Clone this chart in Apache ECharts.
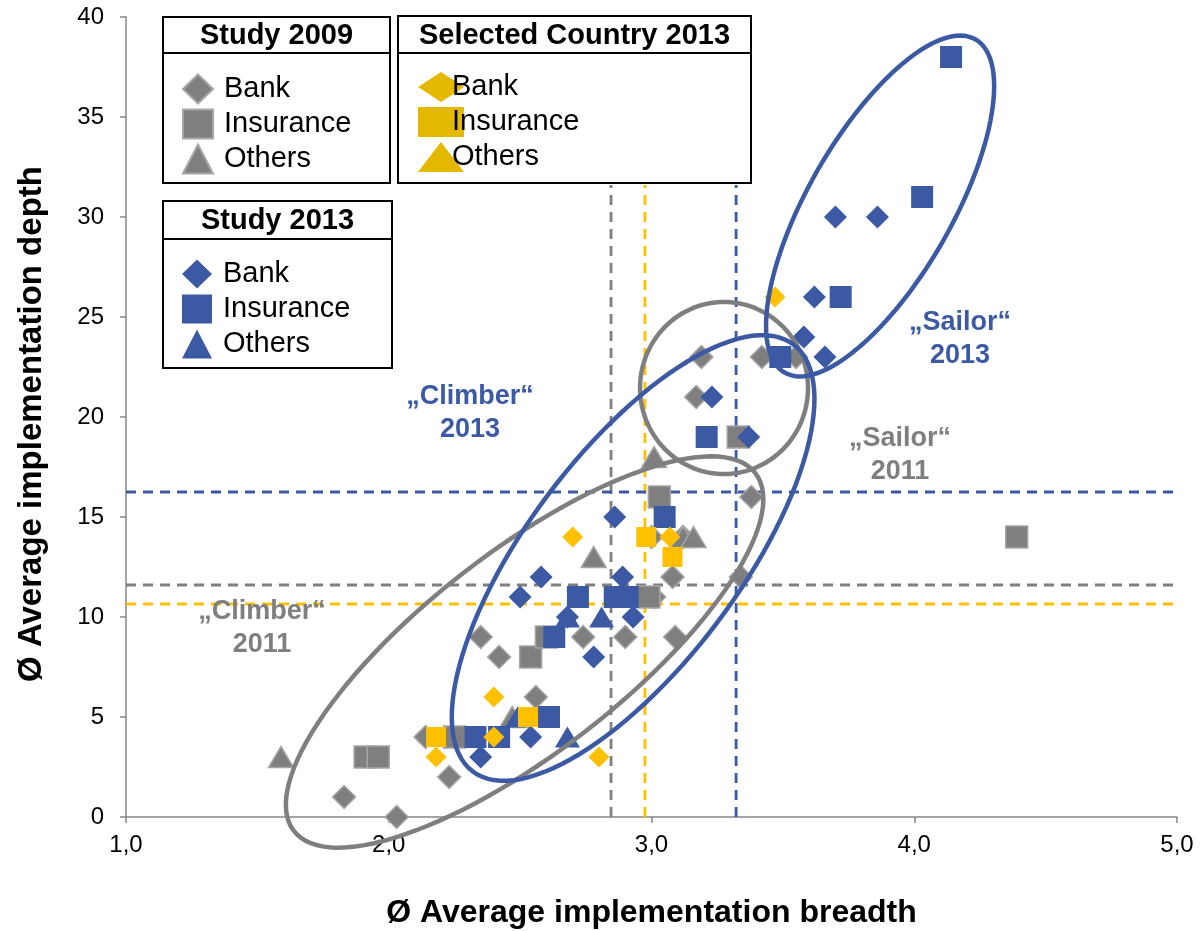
<!DOCTYPE html>
<html lang="en">
<head>
<meta charset="UTF-8">
<title>Implementation breadth vs depth</title>
<script src="https://cdn.jsdelivr.net/npm/echarts@6/dist/echarts.min.js"></script>
<style>
    html, body { margin: 0; padding: 0; background: #fff; }
    #main { width: 1202px; height: 931px; }
</style>
</head>
<body>
<div id="main"></div>
<script>
    // [breadth, depth]
    var bank2009 = [[1.83, 1], [2.03, 0], [2.23, 2], [2.14, 4], [2.56, 6], [2.42, 8], [2.35, 9], [2.74, 9], [2.90, 9],
        [3.09, 9], [3.08, 12], [3.01, 11], [3.34, 12], [3.38, 16], [3.00, 14], [3.12, 14], [3.19, 23], [3.17, 21],
        [3.42, 23], [3.55, 23]];
    var insurance2009 = [[1.91, 3], [1.96, 3], [2.25, 4], [2.54, 8], [2.60, 9], [2.99, 11], [3.03, 16], [3.33, 19], [4.39, 14]];
    var others2009 = [[1.59, 3], [2.47, 5], [2.78, 13], [3.01, 18], [3.12, 14], [3.16, 14]];

    var bank2013 = [[2.35, 3], [2.54, 4], [2.78, 8], [2.68, 10], [2.93, 10], [2.50, 11], [2.58, 12], [2.89, 12], [2.86, 15],
        [3.23, 21], [3.37, 19], [3.58, 24], [3.66, 23], [3.62, 26], [3.70, 30], [3.86, 30]];
    var insurance2013 = [[2.33, 4], [2.42, 4], [2.61, 5], [2.63, 9], [2.72, 11], [2.86, 11], [2.91, 11], [3.05, 15],
        [3.21, 19], [3.49, 23], [3.72, 26], [4.03, 31], [4.14, 38]];
    var others2013 = [[2.49, 5], [2.68, 4], [2.68, 10], [2.81, 10]];

    var bankCountry = [[2.18, 3], [2.40, 4], [2.40, 6], [2.80, 3], [2.70, 14], [3.07, 14], [3.47, 26]];
    var insuranceCountry = [[2.18, 4], [2.53, 5], [2.98, 14], [3.08, 13]];
    var othersCountry = [];

    // averages (dashed reference lines)
    var avgBreadth = [2.846, 2.975, 3.322];   // 2009, country, 2013
    var avgDepth = [11.6, 10.65, 16.25];      // 2009, country, 2013

    var xTicks = [1, 2, 3, 4, 5];
    var yTicks = [0, 5, 10, 15, 20, 25, 30, 35, 40];

    var gray = '#7f7f7f', blue = '#3c5aa4', gold = '#ffc000';
    var font = "'Liberation Sans', Arial, sans-serif";

    // cluster rings: centre in data units, radii in px, tilt in degrees
    var rings = [
        {c: [2.517, 8.25], a: 292, b: 100, tilt: 37.8, color: gray},
        {c: [3.276, 21.45], a: 86, b: 84, tilt: 90, color: gray},
        {c: [2.93, 12.95], a: 267, b: 106, tilt: 53.1, color: blue},
        {c: [3.87, 30.55], a: 192, b: 72, tilt: 60.2, color: blue}
    ];

    var chart = echarts.init(document.getElementById('main'));

    function scatter(name, data, symbol, color, size, z, border) {
        return {
            name: name, type: 'scatter', data: data, symbol: symbol, symbolSize: size, z: z,
            itemStyle: {color: color, opacity: 1, borderColor: border || color, borderWidth: border ? 1.5 : 0}
        };
    }

    function dashed(points, color) {
        return {
            type: 'line', data: points, symbol: 'none', silent: true, clip: false, z: 1,
            lineStyle: {color: color, width: 2.8, type: [10, 7]}
        };
    }

    var lineColors = [gray, gold, blue];
    var series = [];
    avgBreadth.forEach(function (v, i) {
        series.push(dashed([[v, 0], [v, 31.6]], lineColors[i]));
    });
    avgDepth.forEach(function (v, i) {
        series.push(dashed([[1, v], [5.04, v]], lineColors[i]));
    });

    series.push(
        scatter('Bank (2009)', bank2009, 'diamond', gray, 23, 3, '#a6a6a6'),
        scatter('Insurance (2009)', insurance2009, 'rect', gray, 22, 3, '#a6a6a6'),
        scatter('Others (2009)', others2009, 'triangle', gray, [25, 21], 3, '#a6a6a6'),
        scatter('Bank (2013)', bank2013, 'diamond', blue, 23, 4),
        scatter('Insurance (2013)', insurance2013, 'rect', blue, 22, 4),
        scatter('Others (2013)', others2013, 'triangle', blue, [25, 21], 4),
        scatter('Bank (country)', bankCountry, 'diamond', gold, 21, 5),
        scatter('Insurance (country)', insuranceCountry, 'rect', gold, 20, 5),
        scatter('Others (country)', othersCountry, 'triangle', gold, [23, 19], 5)
    );

    series.push({
        type: 'custom', silent: true, clip: false, z: 6,
        data: rings.map(function (r) { return [r.c[0], r.c[1]]; }),
        renderItem: function (params, api) {
            var r = rings[params.dataIndex];
            var c = api.coord([api.value(0), api.value(1)]);
            var th = r.tilt * Math.PI / 180;
            var pts = [];
            for (var i = 0; i <= 120; i++) {
                var t = i / 120 * 2 * Math.PI;
                pts.push([
                    c[0] + r.a * Math.cos(t) * Math.cos(th) - r.b * Math.sin(t) * Math.sin(th),
                    c[1] - (r.a * Math.cos(t) * Math.sin(th) + r.b * Math.sin(t) * Math.cos(th))
                ]);
            }
            return {type: 'polygon', shape: {points: pts}, style: {fill: 'none', stroke: r.color, lineWidth: 4.5}};
        }
    });

    function shortName(name) {
        return name.split(' (')[0];
    }

    function legendBlock(names, left, top, w, h, gap, pad, colors) {
        return {
            data: names.map(function (n, i) {
                return colors ? {name: n, itemStyle: {color: colors}} : n;
            }),
            orient: 'vertical', left: left, top: top, itemWidth: w, itemHeight: h, itemGap: gap,
            symbolKeepAspect: false, selectedMode: false, formatter: shortName, z: 10,
            textStyle: {fontSize: 29, lineHeight: 32, color: '#000', fontFamily: font, padding: [0, 0, 0, pad]}
        };
    }

    function box(x, y, w, h, headerY, title) {
        return [
            {type: 'rect', z: 8, shape: {x: x, y: y, width: w, height: h}, style: {fill: '#fff', stroke: '#000', lineWidth: 2}},
            {type: 'line', z: 9, shape: {x1: x, y1: headerY, x2: x + w, y2: headerY}, style: {stroke: '#000', lineWidth: 2}},
            {type: 'text', z: 9, x: x + w / 2, y: (y + headerY) / 2 + 1,
                style: {text: title, fill: '#000', font: 'bold 29px ' + font, textAlign: 'center', textVerticalAlign: 'middle'}}
        ];
    }

    function note(text, x, y, color) {
        return {type: 'text', z: 9, x: x, y: y,
            style: {text: text, fill: color, font: 'bold 27px ' + font, lineHeight: 33, textAlign: 'center', textVerticalAlign: 'middle'}};
    }

    var option = {
        animation: false,
        grid: {left: 126, right: 25, top: 17, bottom: 114, outerBoundsMode: 'none', containLabel: false},
        xAxis: {
            type: 'value', min: 1, max: 5, interval: 1,
            name: 'Ø Average implementation breadth', nameLocation: 'middle', nameGap: 80,
            nameTextStyle: {fontSize: 32, fontWeight: 'bold', color: '#000', fontFamily: font},
            axisLine: {show: true, lineStyle: {color: '#868686', width: 1.5}},
            axisTick: {show: true, length: 6, lineStyle: {color: '#868686', width: 1.5}},
            splitLine: {show: false},
            axisLabel: {fontSize: 24, color: '#000', fontFamily: font, margin: 16,
                customValues: xTicks,
                formatter: function (v) { return v.toFixed(1).replace('.', ','); }}
        },
        yAxis: {
            type: 'value', min: 0, max: 40, interval: 5,
            name: 'Ø Average implementation depth', nameLocation: 'middle', nameGap: 78,
            nameTextStyle: {fontSize: 33, fontWeight: 'bold', color: '#000', fontFamily: font, padding: [0, 14, 0, 0]},
            axisLine: {show: true, lineStyle: {color: '#868686', width: 1.5}},
            axisTick: {show: true, length: 6, lineStyle: {color: '#868686', width: 1.5}},
            splitLine: {show: false},
            axisLabel: {fontSize: 24, color: '#000', fontFamily: font, margin: 22, customValues: yTicks}
        },
        legend: [
            legendBlock(['Bank (2009)', 'Insurance (2009)', 'Others (2009)'], 177, 68, 30, 29, 3, 6),
            legendBlock(['Bank (2013)', 'Insurance (2013)', 'Others (2013)'], 177, 253, 30, 29, 3, 6),
            legendBlock(['Bank (country)', 'Insurance (country)', 'Others (country)'], 413, 66, 46, 30, 3, -17, '#e5b800')
        ],
        graphic: [].concat(
            box(163, 17, 227, 166, 53, 'Study 2009'),
            box(398, 16, 353, 167, 53, 'Selected Country 2013'),
            box(163, 201, 229, 167, 239, 'Study 2013'),
            [
                note('\u201EClimber\u201C\n2013', 470, 413, blue),
                note('\u201ESailor\u201C\n2013', 960, 339, blue),
                note('\u201ESailor\u201C\n2011', 900, 455, gray),
                note('\u201EClimber\u201C\n2011', 262, 628, gray)
            ]
        ),
        series: series
    };

    chart.setOption(option);
</script>
</body>
</html>
